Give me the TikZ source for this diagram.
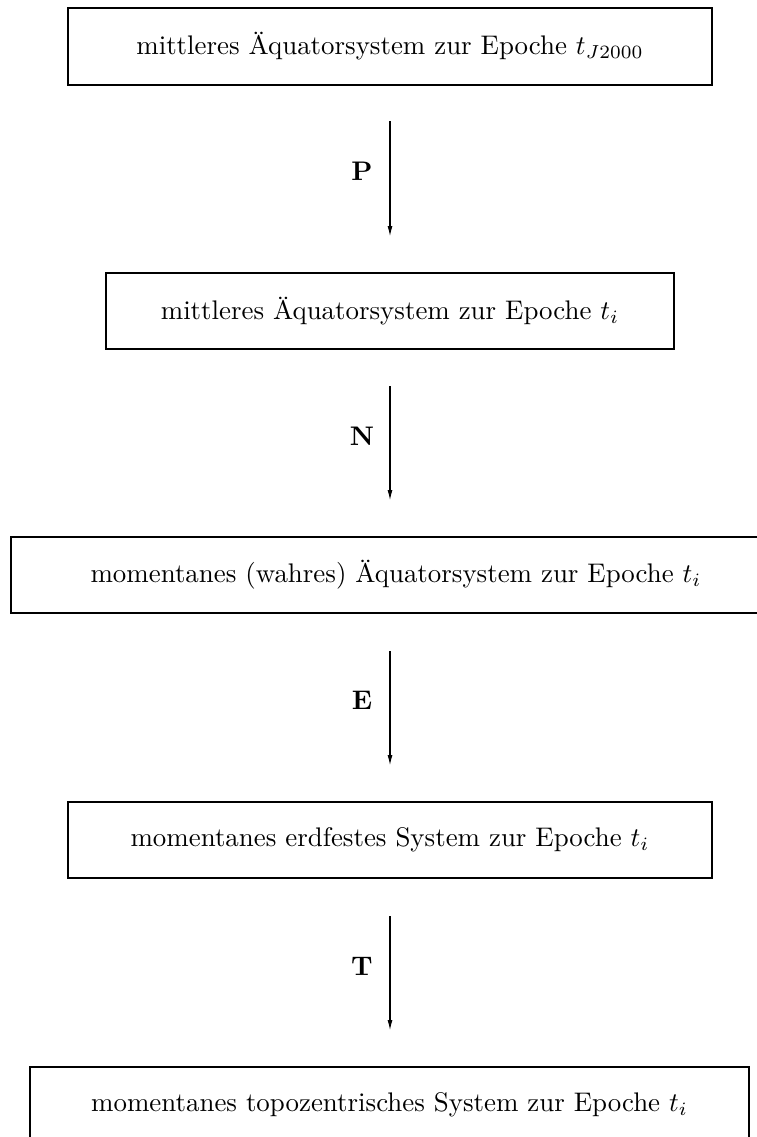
\documentclass[tikz,border=0pt]{standalone}
\usepackage{graphicx}
\usetikzlibrary{arrows.meta}
\newcommand{\bigtxt}[1]{\scalebox{2.7}{#1}}
\begin{document}
\begin{tikzpicture}[x=1bp,y=-1bp,
  sysbox/.style={draw,line width=2bp,inner sep=0pt},
  conn/.style={line width=1.5bp,-{Latex[length=11bp,width=5bp]}},
  lab/.style={anchor=center}]
\useasboundingbox (0,0) rectangle (757,1137);
\node[sysbox,minimum width=644bp,minimum height=77bp] (b1) at (390,46.5) {\bigtxt{mittleres Äquatorsystem zur Epoche $t_{J2000}$}};
\node[sysbox,minimum width=568bp,minimum height=76bp] (b2) at (390,311) {\bigtxt{mittleres Äquatorsystem zur Epoche $t_i$}};
\node[sysbox,minimum width=770bp,minimum height=76bp] (b3) at (396,575) {\bigtxt{momentanes (wahres) Äquatorsystem zur Epoche $t_i$}};
\node[sysbox,minimum width=644bp,minimum height=76bp] (b4) at (390,840) {\bigtxt{momentanes erdfestes System zur Epoche $t_i$}};
\node[sysbox,minimum width=719bp,minimum height=76bp] (b5) at (389.5,1105) {\bigtxt{momentanes topozentrisches System zur Epoche $t_i$}};
\coordinate (a1s) at (390,121); \coordinate (a1e) at (390,237);
\coordinate (a2s) at (390,386); \coordinate (a2e) at (390,501);
\coordinate (a3s) at (390,651); \coordinate (a3e) at (390,766);
\coordinate (a4s) at (390,916); \coordinate (a4e) at (390,1031);
\draw[conn] (a1s) -- (a1e);
\draw[conn] (a2s) -- (a2e);
\draw[conn] (a3s) -- (a3e);
\draw[conn] (a4s) -- (a4e);
\node[lab] (lP) at (362,171) {\bigtxt{\bfseries P}};
\node[lab] (lN) at (362,436) {\bigtxt{\bfseries N}};
\node[lab] (lE) at (362,700) {\bigtxt{\bfseries E}};
\node[lab] (lT) at (362,966) {\bigtxt{\bfseries T}};
\end{tikzpicture}
\end{document}
